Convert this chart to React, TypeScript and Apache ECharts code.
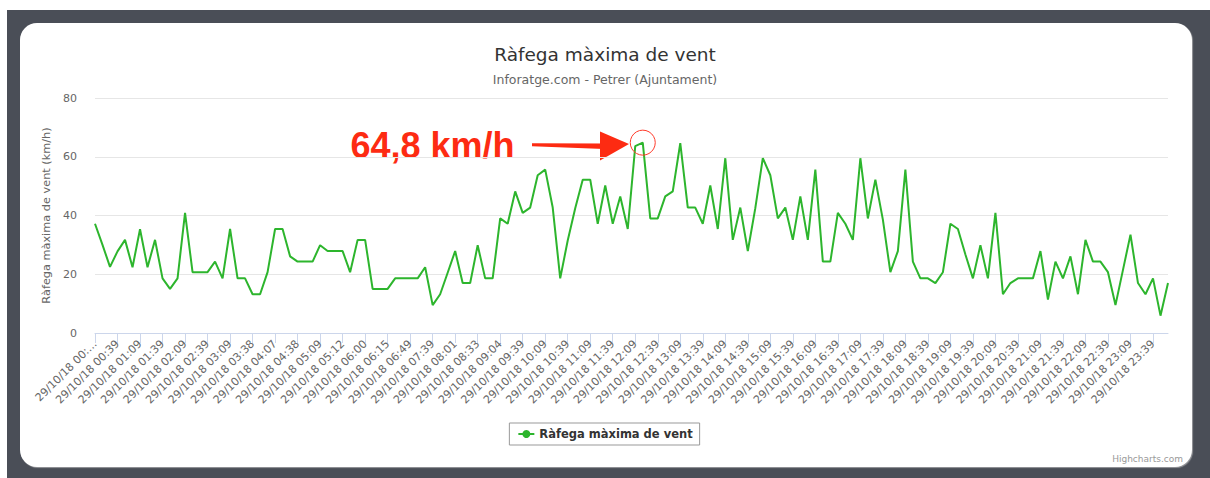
import React, { useEffect, useRef } from "react";
import * as echarts from "echarts";

const FONT = "'DejaVu Sans', 'Lucida Grande', Verdana, sans-serif";

const chartTitle = "Ràfega màxima de vent";
const chartSubtitle = "Inforatge.com - Petrer (Ajuntament)";
const yAxisTitle = "Ràfega màxima de vent (km/h)";
const seriesName = "Ràfega màxima de vent";
const unit = "km/h";

// one label every 3 readings (10-minute data)
const tickLabels = [
  "29/10/18 00:…", "29/10/18 00:39", "29/10/18 01:09", "29/10/18 01:39",
  "29/10/18 02:09", "29/10/18 02:39", "29/10/18 03:09", "29/10/18 03:38",
  "29/10/18 04:07", "29/10/18 04:38", "29/10/18 05:09", "29/10/18 05:12",
  "29/10/18 06:00", "29/10/18 06:15", "29/10/18 06:49", "29/10/18 07:39",
  "29/10/18 08:01", "29/10/18 08:33", "29/10/18 09:04", "29/10/18 09:39",
  "29/10/18 10:09", "29/10/18 10:39", "29/10/18 11:09", "29/10/18 11:39",
  "29/10/18 12:09", "29/10/18 12:39", "29/10/18 13:09", "29/10/18 13:39",
  "29/10/18 14:09", "29/10/18 14:39", "29/10/18 15:09", "29/10/18 15:39",
  "29/10/18 16:09", "29/10/18 16:39", "29/10/18 17:09", "29/10/18 17:39",
  "29/10/18 18:09", "29/10/18 18:39", "29/10/18 19:09", "29/10/18 19:39",
  "29/10/18 20:09", "29/10/18 20:39", "29/10/18 21:09", "29/10/18 21:39",
  "29/10/18 22:09", "29/10/18 22:39", "29/10/18 23:09", "29/10/18 23:39",
];

const gustValues = [
  37.2, 30, 22.5, 27.8, 31.7, 22.4, 35.3, 22.4, 31.7, 18.6, 15, 18.6,
  40.9, 20.7, 20.7, 20.7, 24.3, 18.6, 35.4, 18.6, 18.6, 13.2, 13.2, 20.7,
  35.4, 35.4, 26.1, 24.3, 24.3, 24.3, 29.9, 27.9, 27.9, 27.9, 20.7, 31.7,
  31.7, 15, 15, 15, 18.6, 18.6, 18.6, 18.6, 22.4, 9.5, 13.2, 20.5,
  27.9, 17, 17, 29.9, 18.6, 18.6, 39, 37.2, 48.2, 40.9, 42.7, 53.7,
  55.6, 42.7, 18.6, 31.5, 42.5, 52.2, 52.2, 37.2, 50.2, 37.2, 46.5, 35.4,
  63.6, 64.8, 39, 39, 46.5, 48.2, 64.6, 42.7, 42.7, 37.2, 50.2, 35.4,
  59.5, 31.7, 42.7, 27.9, 42.5, 59.5, 53.7, 39, 42.7, 31.7, 46.5, 31.7,
  55.6, 24.3, 24.3, 40.9, 37.2, 31.7, 59.5, 39, 52.2, 38.6, 20.7, 27.9,
  55.6, 24.3, 18.6, 18.6, 17, 20.7, 37.2, 35.4, 26.7, 18.6, 29.9, 18.6,
  40.9, 13.2, 17, 18.6, 18.6, 18.6, 27.9, 11.4, 24.3, 18.6, 26.1, 13.2,
  31.7, 24.3, 24.3, 20.7, 9.5, 21.5, 33.5, 17, 13.2, 18.6, 5.9, 17,
];

const yTicks = [0, 20, 40, 60, 80];
const LABEL_STEP = 3;

export default function App() {
  const ref = useRef<HTMLDivElement>(null);

  useEffect(() => {
    if (!ref.current) return;
    const chart = echarts.init(ref.current, undefined, { renderer: "svg" });

    const categories = gustValues.map((_, i) => String(i));
    const peak = Math.max(...gustValues);
    const peakIndex = gustValues.indexOf(peak);
    const peakText = `${peak.toFixed(1).replace(".", ",")} ${unit}`;
    const red = "#fd2b12";

    chart.setOption({
      animation: false,
      backgroundColor: "transparent",
      textStyle: { fontFamily: FONT },
      title: {
        text: chartTitle,
        subtext: chartSubtitle,
        left: "center",
        top: 40,
        itemGap: 9,
        textStyle: { fontSize: 18.5, fontWeight: "normal", color: "#333333", fontFamily: FONT },
        subtextStyle: { fontSize: 12.5, color: "#666666", fontFamily: FONT },
      },
      legend: {
        data: [seriesName],
        left: "center",
        top: 423,
        padding: [5, 7, 5, 8],
        borderColor: "#999999",
        borderWidth: 1,
        borderRadius: 0,
        itemWidth: 16,
        itemHeight: 10,
        itemGap: 6,
        textStyle: { fontSize: 11.5, fontWeight: "bold", color: "#333333", fontFamily: FONT },
      },
      grid: { left: 95, right: 42, top: 98, bottom: 145 },
      xAxis: {
        type: "category",
        data: categories,
        boundaryGap: false,
        axisLine: { lineStyle: { color: "#ccd6eb", width: 1 } },
        axisTick: { show: true, interval: LABEL_STEP - 1, length: 10, lineStyle: { color: "#ccd6eb" } },
        axisLabel: {
          interval: LABEL_STEP - 1,
          rotate: 45,
          margin: 9,
          fontSize: 11,
          color: "#666666",
          fontFamily: FONT,
          formatter: (_v: string, idx: number) => tickLabels[Math.floor(idx / LABEL_STEP)] ?? "",
        },
        splitLine: { show: false },
      },
      yAxis: {
        type: "value",
        min: yTicks[0],
        max: yTicks[yTicks.length - 1],
        interval: yTicks[1] - yTicks[0],
        name: yAxisTitle,
        nameLocation: "middle",
        nameRotate: 90,
        nameGap: 36,
        nameTextStyle: { fontSize: 11.3, color: "#666666", fontFamily: FONT },
        axisLine: { show: false },
        axisTick: { show: false },
        axisLabel: { fontSize: 11, color: "#666666", margin: 18, fontFamily: FONT },
        splitLine: { lineStyle: { color: "#e6e6e6", width: 1 } },
      },
      series: [
        {
          name: seriesName,
          type: "line",
          data: gustValues,
          symbol: "circle",
          symbolSize: 8,
          showSymbol: false,
          lineStyle: { color: "#2db52d", width: 2 },
          itemStyle: { color: "#2db52d" },
          markPoint: {
            symbol: "circle",
            symbolSize: 25,
            silent: true,
            label: { show: false },
            itemStyle: { color: "rgba(0,0,0,0)", borderColor: "#ff3b2b", borderWidth: 1 },
            data: [{ coord: [peakIndex, peak] }],
          },
        },
      ],
      graphic: [
        {
          type: "text",
          left: 349,
          top: 126,
          style: {
            text: peakText,
            fill: red,
            font: "bold 36px 'Liberation Sans', Arial, sans-serif",
            stroke: "#ffffff",
            lineWidth: 3,
            shadowBlur: 4,
            shadowColor: "rgba(0,0,0,0.35)",
            shadowOffsetY: 1,
          },
        },
        {
          type: "polygon",
          shape: { points: [[532, 143.3], [604, 143.5], [604, 149], [532, 146.3]] },
          style: { fill: red },
        },
        {
          type: "polygon",
          shape: { points: [[600, 131.5], [629, 144], [600, 160.5]] },
          style: { fill: red },
        },
        {
          type: "text",
          right: 27,
          top: 454,
          style: { text: "Highcharts.com", fill: "#999999", font: `9px ${FONT}` },
        },
      ],
    });

    return () => chart.dispose();
  }, []);

  return (
    <div style={{ position: "absolute", left: 0, top: 0, width: 1210, height: 478, background: "#ffffff", overflow: "hidden" }}>
      <div style={{ position: "absolute", left: 7, top: 10, right: 0, bottom: 0, background: "#4a4e57" }} />
      <div
        style={{
          position: "absolute",
          left: 20,
          top: 23,
          width: 1172,
          height: 444,
          background: "#ffffff",
          borderRadius: 17,
          boxShadow: "1px 1px 1px rgba(200,200,200,0.6)",
        }}
      />
      <div ref={ref} style={{ position: "absolute", left: 0, top: 0, width: 1210, height: 478 }} />
    </div>
  );
}
